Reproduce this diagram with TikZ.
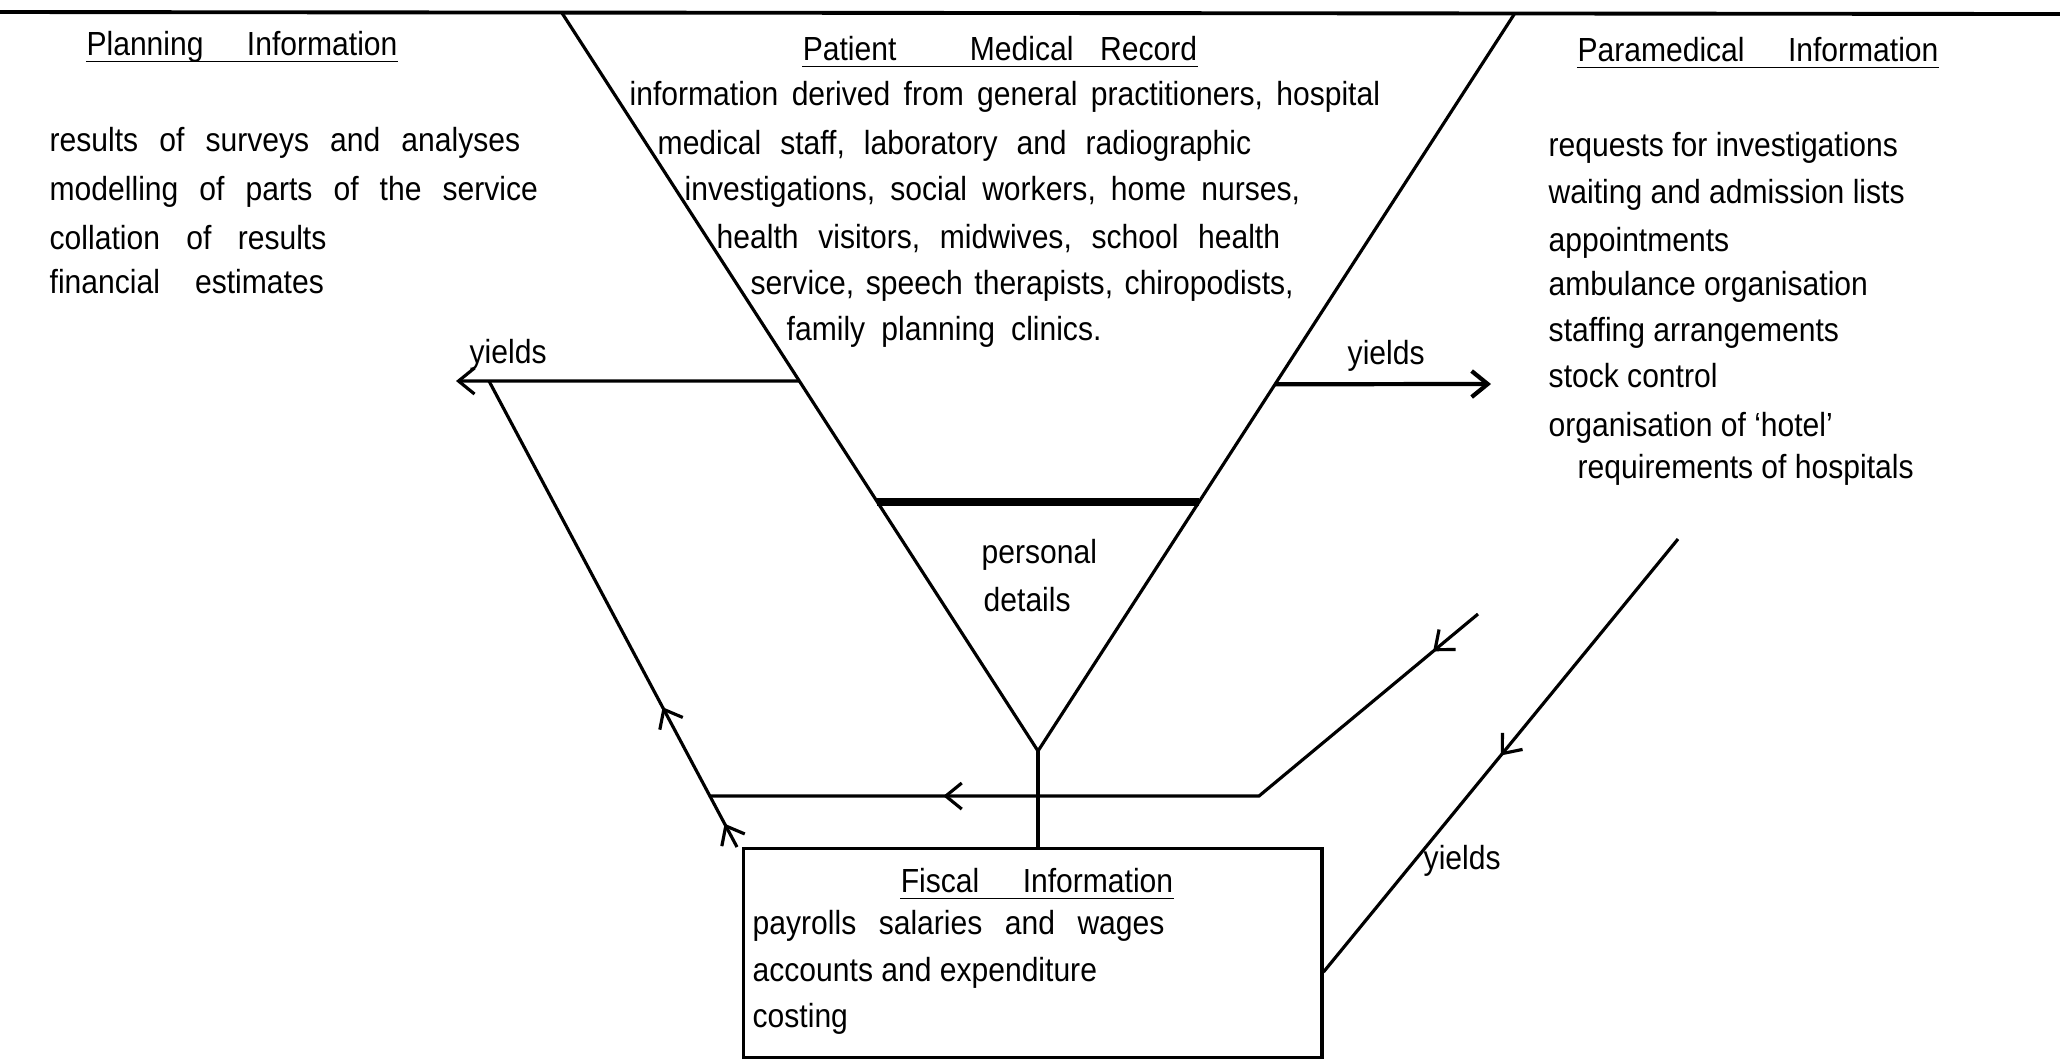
\documentclass[tikz,border=0pt]{standalone}
\usepackage{fontspec}
\setmainfont{Liberation Sans}[FakeStretch=0.9]
\usetikzlibrary{arrows.meta,calc,positioning,decorations.markings}

\tikzset{
  lettering/.style={inner sep=0pt,font=\fontsize{9.5}{11}\selectfont},
  txt/.style={lettering,anchor=base west},
  ttl/.style={lettering,anchor=base},
  words/.style={execute at begin node={\spaceskip=#1\relax}},
  edge/.style={line width=0.9pt},
  barb/.style={-{Straight Barb[length=1.6mm,width=2.6mm]}},
  midarrow/.style={postaction={decorate},decoration={markings,
      mark=at position #1 with {\arrow{Straight Barb[length=1.6mm,width=2.6mm]}}}},
}

\begin{document}
\begin{tikzpicture}[x=0.01cm,y=-0.01cm]
    \useasboundingbox (0,0) rectangle (2060,1059);
    % funnel of the patient record
    \coordinate (LT) at (562,13);
    \coordinate (RT) at (1515,13);
    \coordinate (V) at (1038,751);
    \draw[line width=1.1pt] (0,12) -- (2060,14);
    \draw[edge] (LT) -- (V) -- (RT);
    \draw[line width=2.3pt] ($(LT)!0.6626!(V)$) -- ($(RT)!0.6626!(V)$);
    % fiscal box
    \node[draw,edge,anchor=north west,minimum width=5.78cm,minimum height=2.09cm] (fiscal) at (742,847) {};
    \draw[edge] (V) -- (V |- fiscal.north);
    % yields to both sides
    \coordinate (YL) at ($(LT)!0.4986!(V)$);
    \coordinate (YLend) at (456,381);
    \draw[edge,barb] (YL) -- (YLend);
    \coordinate (YR) at ($(RT)!0.503!(V)$);
    \coordinate (YRend) at (1491,384);
    \draw[line width=1.2pt,barb] (YR) -- (YRend);
    % return to planning
    \coordinate (R0) at (737,847);
    \coordinate (R1) at (489,381);
    \draw[edge,postaction={decorate},decoration={markings,
        mark=at position 0.05 with {\arrow{Straight Barb[length=1.6mm,width=2.6mm]}},
        mark=at position 0.30 with {\arrow{Straight Barb[length=1.6mm,width=2.6mm]}}}]
      (R0) -- (R1);
    % paramedical back to planning
    \coordinate (P0) at (1478,614);
    \coordinate (P1) at (1259,796);
    \coordinate (P2) at (intersection of R0--R1 and 0,796--100,796);
    \draw[edge,postaction={decorate},decoration={markings,
        mark=at position 0.07 with {\arrow{Straight Barb[length=1.6mm,width=2.6mm]}},
        mark=at position 0.72 with {\arrow{Straight Barb[length=1.6mm,width=2.6mm]}}}]
      (P0) -- (P1) -- (P2);
    % paramedical to fiscal
    \coordinate (Q0) at (1678,539);
    \coordinate (Q1) at (fiscal.east |- 0,972);
    \draw[edge,midarrow=0.5] (Q0) -- (Q1);

    % planning
    \node[ttl] (planning) at (242,55) {Planning\hspace{1.3em}Information};
    \draw ([yshift=-1.8pt]planning.base west) -- ([yshift=-1.8pt]planning.base east);
    \node[txt,words=6pt] (pl1) at (49,151) {results of surveys and analyses};
    \node[txt,words=6pt] (pl2) at (49,200) {modelling of parts of the service};
    \node[txt,words=7.5pt] (pl3) at (49,249) {collation of results};
    \node[txt,words=10pt] (pl4) at (49,293) {financial estimates};

    % patient medical record
    \node[ttl] (record) at (1000,60) {Patient\hspace{2.2em}Medical\hspace{0.8em}Record};
    \draw ([yshift=-1.8pt]record.base west) -- ([yshift=-1.8pt]record.base east);
    \node[txt,words=3.8pt] (pm1) at (629,105) {information derived from general practitioners, hospital};
    \node[txt,words=5.4pt] (pm2) at (657,154) {medical staff, laboratory and radiographic};
    \node[txt,words=4.3pt] (pm3) at (684,200) {investigations, social workers, home nurses,};
    \node[txt,words=5.6pt] (pm4) at (716,248) {health visitors, midwives, school health};
    \node[txt,words=3.3pt] (pm5) at (750,294) {service, speech therapists, chiropodists,};
    \node[txt,words=4.6pt] (pm6) at (786,340) {family planning clinics.};
    \node[txt] (pd1) at (981,563) {personal};
    \node[txt] (pd2) at (983,611) {details};

    % paramedical
    \node[ttl] (paramedical) at (1758,61) {Paramedical\hspace{1.3em}Information};
    \draw ([yshift=-1.8pt]paramedical.base west) -- ([yshift=-1.8pt]paramedical.base east);
    \node[txt] (pa1) at (1548,156) {requests for investigations};
    \node[txt] (pa2) at (1548,203) {waiting and admission lists};
    \node[txt] (pa3) at (1548,251) {appointments};
    \node[txt] (pa4) at (1548,295) {ambulance organisation};
    \node[txt] (pa5) at (1548,341) {staffing arrangements};
    \node[txt] (pa6) at (1548,387) {stock control};
    \node[txt] (pa7) at (1548,436) {organisation of `hotel'};
    \node[txt] (pa8) at (1577,478) {requirements of hospitals};

    % fiscal
    \node[ttl] (fiscaltitle) at (1037,892) {Fiscal\hspace{1.3em}Information};
    \draw ([yshift=-1.8pt]fiscaltitle.base west) -- ([yshift=-1.8pt]fiscaltitle.base east);
    \node[txt,words=6.4pt] (fi1) at (752,934) {payrolls salaries and wages};
    \node[txt] (fi2) at (752,981) {accounts and expenditure};
    \node[txt] (fi3) at (752,1027) {costing};

    % yields labels
    \node[txt] (ylab1) at (469,363) {yields};
    \node[txt] (ylab2) at (1347,364) {yields};
    \node[txt] (ylab3) at (1423,869) {yields};
\end{tikzpicture}
\end{document}
